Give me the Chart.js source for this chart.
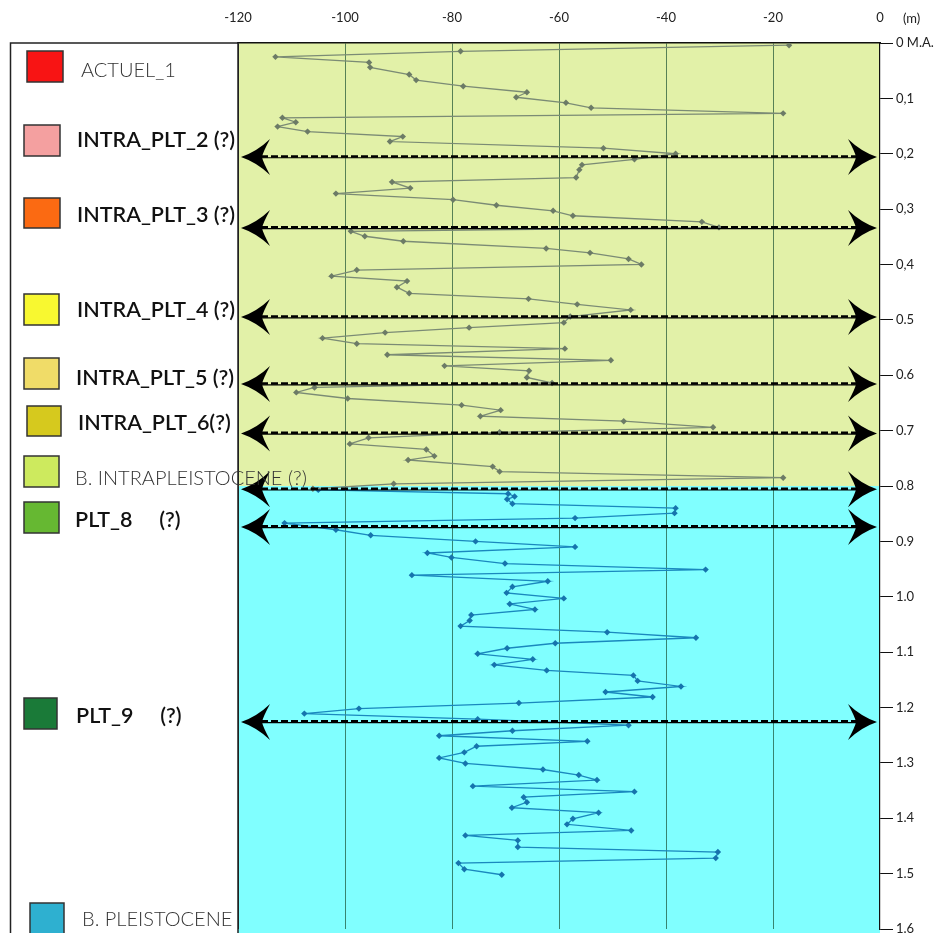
<!DOCTYPE html>
<html>
<head>
<meta charset="utf-8">
<script src="https://cdn.jsdelivr.net/npm/chart.js@4.4.1/dist/chart.umd.min.js"></script>
<style>
  html, body { margin: 0; padding: 0; background: #fff; }
  #wrap { width: 944px; height: 933px; position: relative; }
</style>
</head>
<body>
<div id="wrap"><canvas id="profileChart"></canvas></div>
<script>
// Profil : valeur (axe x, -120..0) en fonction de la profondeur (m)
const upperValues = [-17, -78.4, -113, -95.5, -95.3, -88, -86.7, -77.9, -66, -68, -58.7, -54, -18.1,
  -111.7, -109.2, -112.6, -107, -89.2, -91.6, -51.7, -38.2, -45.9, -55.7, -56.2, -56.8,
  -91.2, -87.8, -101.7, -79.8, -71.7, -61.1, -57.4, -33.3, -30.1,
  -98.9, -96.3, -89.1, -62.4, -54.2, -47, -44.6, -97.8, -102.5, -88.4, -90.3, -88, -65.7, -56.6, -46.6,
  -57.9, -59.1, -76.8, -92.5, -104.2, -97.8, -58.9, -92.1, -50.3, -81.4, -65.6, -66, -61.3,
  -105.7, -109.1, -99.5, -78.2, -70.9, -74.7, -47.9, -31.2, -71.1, -95.6, -99.1, -84.8, -83.3, -88.2,
  -72.4, -71.1, -18.1, -90.9, -106];
const upperDepths = [0.004, 0.015, 0.025, 0.035, 0.044, 0.057, 0.067, 0.078, 0.089, 0.098, 0.108, 0.117, 0.127,
  0.135, 0.143, 0.151, 0.16, 0.169, 0.178, 0.19, 0.2, 0.21, 0.22, 0.229, 0.243,
  0.251, 0.262, 0.272, 0.283, 0.293, 0.303, 0.312, 0.323, 0.333,
  0.34, 0.349, 0.358, 0.371, 0.379, 0.39, 0.4, 0.41, 0.421, 0.43, 0.441, 0.452, 0.462, 0.472, 0.482,
  0.494, 0.505, 0.514, 0.523, 0.533, 0.543, 0.552, 0.563, 0.573, 0.583, 0.592, 0.604, 0.614,
  0.622, 0.631, 0.642, 0.654, 0.663, 0.674, 0.683, 0.694, 0.703, 0.713, 0.724, 0.734, 0.746, 0.753,
  0.765, 0.774, 0.785, 0.796, 0.805];

const lowerValues = [-105, -69.5, -68.3, -69.7, -68.7, -38.2, -38.4, -57, -111.3, -101.7, -95.2, -75.6, -57,
  -84.6, -80.1, -70.1, -32.6, -87.5, -62.1, -68.7, -69.8, -59.1, -69.2, -64.5, -76.4, -76.7, -78.4,
  -51, -34.4, -60.7, -69.7, -75.2, -64.9, -72.1, -62.3, -46.1, -45.3, -37.2, -51.3, -42.5, -67.5,
  -97.4, -107.6, -75.2, -47, -68.7, -82.4, -54.7, -75.4, -77.7, -82.4, -77.5, -63, -56.3, -52.9,
  -76.1, -45.9, -66.6, -66, -68.8, -52.6, -57.4, -58.5, -46.5, -77.5, -67.7, -67.7, -30.3, -30.7,
  -78.8, -77.7, -70.7];
const lowerDepths = [0.807, 0.814, 0.819, 0.824, 0.832, 0.84, 0.849, 0.858, 0.867, 0.879, 0.889, 0.9, 0.91,
  0.921, 0.929, 0.94, 0.951, 0.961, 0.972, 0.982, 0.993, 1.003, 1.013, 1.023, 1.033, 1.043, 1.053,
  1.064, 1.074, 1.084, 1.093, 1.103, 1.113, 1.123, 1.133, 1.142, 1.152, 1.162, 1.172, 1.181, 1.192,
  1.202, 1.211, 1.221, 1.232, 1.242, 1.251, 1.261, 1.27, 1.281, 1.291, 1.301, 1.312, 1.322, 1.331,
  1.342, 1.352, 1.362, 1.371, 1.381, 1.39, 1.401, 1.411, 1.422, 1.431, 1.44, 1.452, 1.461, 1.472,
  1.481, 1.492, 1.502];

// limites (flèches) et limite entre les deux ensembles
const boundaryDepths = [0.206, 0.334, 0.495, 0.616, 0.705, 0.806, 0.874, 1.226];
const unitSplitDepth = 0.8;

const legendLabels = ['ACTUEL_1', 'INTRA_PLT_2 (?)', 'INTRA_PLT_3 (?)', 'INTRA_PLT_4 (?)', 'INTRA_PLT_5 (?)',
  'INTRA_PLT_6(?)', 'B. INTRAPLEISTOCENE (?)', 'PLT_8     (?)', 'PLT_9     (?)', 'B. PLEISTOCENE'];
const legendColors = ['#f81414', '#f4a0a0', '#fb6a12', '#f8f830', '#f0dc68', '#d6c91e', '#cdea5e',
  '#66b832', '#1a7a38', '#2eb0d0'];

function toPoints(xs, ys) {
    return xs.map(function (v, i) { return { x: v, y: ys[i] }; });
}

// disposition de la légende (pixels)
const legendLayout = [
    { bx: 27, by: 51, bw: 36, bh: 31, tx: 81, ty: 71, w: '300', s: 20 },
    { bx: 24, by: 125, bw: 36, bh: 31, tx: 77, ty: 140, w: '600', s: 21.5 },
    { bx: 24, by: 198, bw: 36, bh: 30, tx: 77, ty: 215, w: '600', s: 21.5 },
    { bx: 24, by: 294, bw: 35, bh: 31, tx: 77, ty: 310, w: '600', s: 21.5 },
    { bx: 24, by: 358, bw: 35, bh: 31, tx: 76, ty: 378, w: '600', s: 21.5 },
    { bx: 27, by: 406, bw: 34, bh: 30, tx: 78, ty: 423, w: '600', s: 21.5 },
    { bx: 24, by: 456, bw: 35, bh: 31, tx: 75, ty: 479, w: '300', s: 20 },
    { bx: 24, by: 502, bw: 35, bh: 31, tx: 75, ty: 520, w: '600', s: 21.5 },
    { bx: 24, by: 698, bw: 33, bh: 31, tx: 76, ty: 716, w: '600', s: 21.5 },
    { bx: 30, by: 903, bw: 34, bh: 32, tx: 82, ty: 920, w: '300', s: 20 }
];

function arrowHead(ctx, tipX, yc, dir) {
    const L = 29, H = 18, N = 21;
    ctx.beginPath();
    ctx.moveTo(tipX, yc);
    ctx.quadraticCurveTo(tipX + dir * L * 0.55, yc - H * 0.3, tipX + dir * L, yc - H);
    ctx.quadraticCurveTo(tipX + dir * L * 0.75, yc - H * 0.25, tipX + dir * N, yc);
    ctx.quadraticCurveTo(tipX + dir * L * 0.75, yc + H * 0.25, tipX + dir * L, yc + H);
    ctx.quadraticCurveTo(tipX + dir * L * 0.55, yc + H * 0.3, tipX, yc);
    ctx.closePath();
    ctx.fill();
}

const decorPlugin = {
    id: 'decor',
    beforeDraw(chart) {
        const ctx = chart.ctx, a = chart.chartArea, y = chart.scales.y;
        const ySplit = y.getPixelForValue(unitSplitDepth);
        ctx.save();
        ctx.fillStyle = '#fff';
        ctx.fillRect(0, 0, chart.width, chart.height);
        ctx.fillStyle = '#e2f1a8';
        ctx.fillRect(a.left, a.top, a.right - a.left, ySplit - a.top);
        ctx.fillStyle = '#80ffff';
        ctx.fillRect(a.left, ySplit, a.right - a.left, chart.height - ySplit);
        ctx.restore();
    },
    afterDraw(chart) {
        const ctx = chart.ctx, a = chart.chartArea, y = chart.scales.y;
        ctx.save();
        // cadre légende + bord gauche
        ctx.strokeStyle = '#222';
        ctx.lineWidth = 1.5;
        ctx.beginPath();
        ctx.moveTo(10.5, chart.height);
        ctx.lineTo(10.5, a.top);
        ctx.lineTo(a.left, a.top);
        ctx.moveTo(a.left, a.top);
        ctx.lineTo(a.left, chart.height);
        ctx.stroke();

        // flèches
        ctx.fillStyle = '#000';
        ctx.strokeStyle = '#000';
        boundaryDepths.forEach(function (d) {
            const yp = y.getPixelForValue(d);
            const x0 = a.left + 3, x1 = a.right - 3;
            ctx.setLineDash([]);
            ctx.lineWidth = 1.2;
            ctx.beginPath(); ctx.moveTo(x0 + 10, yp + 0.7); ctx.lineTo(x1 - 10, yp + 0.7); ctx.stroke();
            ctx.setLineDash([7, 3]);
            ctx.lineWidth = 2.6;
            ctx.beginPath(); ctx.moveTo(x0 + 10, yp - 0.6); ctx.lineTo(x1 - 10, yp - 0.6); ctx.stroke();
            ctx.setLineDash([]);
            arrowHead(ctx, x0, yp, 1);
            arrowHead(ctx, x1, yp, -1);
        });

        // légende
        legendLabels.forEach(function (lab, i) {
            const L = legendLayout[i];
            ctx.fillStyle = legendColors[i];
            ctx.fillRect(L.bx, L.by, L.bw, L.bh);
            ctx.strokeStyle = '#333';
            ctx.lineWidth = 1.5;
            ctx.strokeRect(L.bx, L.by, L.bw, L.bh);
            ctx.fillStyle = L.w === '300' ? '#333' : '#111';
            ctx.font = L.w + ' ' + L.s + 'px Lato';
            ctx.textBaseline = 'middle';
            ctx.textAlign = 'left';
            ctx.fillText(lab, L.tx, L.ty);
        });

        // unité
        ctx.fillStyle = '#222';
        ctx.font = '13px Lato';
        ctx.textBaseline = 'middle';
        ctx.fillText('(m)', 903, 19);
        ctx.restore();
    }
};

const profileConfig = {
    type: 'scatter',
    data: {
        datasets: [{
            label: 'intrapléistocène',
            data: toPoints(upperValues, upperDepths),
            showLine: true,
            borderColor: '#7b8b75',
            borderWidth: 1.3,
            pointStyle: 'rectRot',
            pointRadius: 3.2,
            pointBackgroundColor: '#6c7b66',
            pointBorderWidth: 0
        }, {
            label: 'pléistocène',
            data: toPoints(lowerValues, lowerDepths),
            showLine: true,
            borderColor: '#1a88be',
            borderWidth: 1.3,
            pointStyle: 'rectRot',
            pointRadius: 3.2,
            pointBackgroundColor: '#1674ad',
            pointBorderWidth: 0
        }]
    },
    options: {
        responsive: true,
        maintainAspectRatio: false,
        animation: false,
        events: [],
        layout: { padding: { left: 238, top: 0, right: 0, bottom: 2 } },
        plugins: {
            legend: { display: false },
            tooltip: { enabled: false }
        },
        scales: {
            x: {
                type: 'linear',
                position: 'top',
                min: -120,
                max: 0,
                ticks: {
                    stepSize: 20,
                    padding: 17,
                    color: '#222',
                    font: { family: 'Lato', size: 13 }
                },
                grid: {
                    drawTicks: false,
                    lineWidth: 1,
                    color: function (c) {
                        if (c.tick && c.tick.value === 0) return 'rgba(0,0,0,0)';
                        if (c.tick && c.tick.value === -120) return '#222';
                        return 'rgba(20,75,45,0.68)';
                    }
                },
                border: { display: true, color: '#111', width: 1.5 },
                afterFit: function (s) { s.height = 43; s.paddingLeft = 0; s.paddingRight = 0; }
            },
            y: {
                type: 'linear',
                position: 'right',
                min: 0,
                max: 1.6,
                reverse: true,
                ticks: {
                    stepSize: 0.1,
                    padding: 3,
                    color: '#222',
                    font: { family: 'Lato', size: 13 },
                    callback: function (v) {
                        if (Math.abs(v) < 1e-6) return '0 M.A.';
                        return v < 0.45 ? v.toFixed(1).replace('.', ',') : v.toFixed(1);
                    }
                },
                grid: {
                    drawOnChartArea: false,
                    drawTicks: true,
                    tickLength: 13,
                    color: '#111'
                },
                border: { display: true, color: '#111', width: 1.2 },
                afterFit: function (s) { s.width = 64; s.paddingTop = 0; s.paddingBottom = 0; }
            }
        }
    },
    plugins: [decorPlugin]
};

const ctxProfile = document.getElementById('profileChart').getContext('2d');
new Chart(ctxProfile, profileConfig);
</script>
</body>
</html>
